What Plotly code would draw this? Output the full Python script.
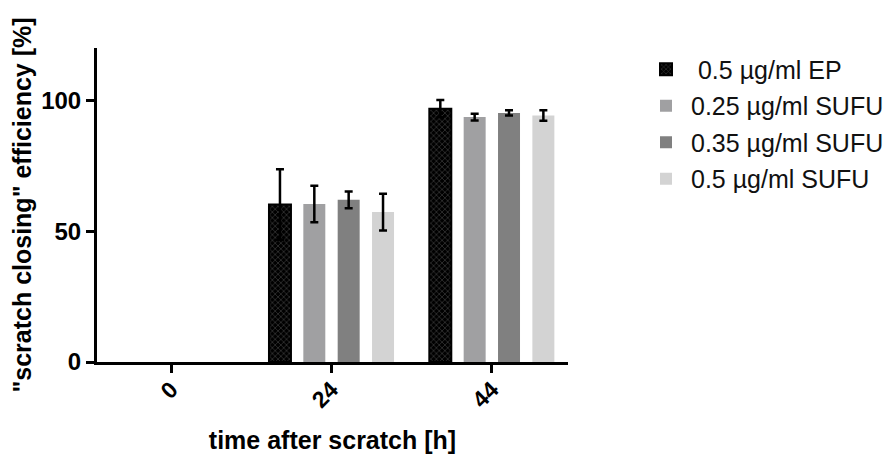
import plotly.graph_objects as go

categories = ["0", "24", "44"]
series_names = [" 0.5 µg/ml EP", "0.25 µg/ml SUFU", "0.35 µg/ml SUFU", "0.5 µg/ml SUFU"]
ep_05 = [None, 60.2, 96.8]
ep_05_err = [None, 13.5, 3.3]
sufu_025 = [None, 60.4, 93.6]
sufu_025_err = [None, 7.0, 1.3]
sufu_035 = [None, 62.0, 95.2]
sufu_035_err = [None, 3.2, 1.0]
sufu_05 = [None, 57.3, 94.2]
sufu_05_err = [None, 7.0, 2.0]
y_ticks = [0, 50, 100]

values = [ep_05, sufu_025, sufu_035, sufu_05]
errors = [ep_05_err, sufu_025_err, sufu_035_err, sufu_05_err]
colors = ["#000000", "#a0a0a2", "#808080", "#d3d3d3"]

font_family = "Liberation Sans, Arial, sans-serif"
fig = go.Figure()
for i, (name, v, e, c) in enumerate(zip(series_names, values, errors, colors)):
    marker = dict(color=c, line=dict(width=0))
    if i == 0:
        marker = dict(color="#000000",
                      line=dict(color="#000000", width=2),
                      pattern=dict(shape="x", fgcolor="#6a6a6a", bgcolor="#000000",
                                   size=4, solidity=0.35))
    fig.add_trace(go.Bar(
        x=categories, y=v, name=name, marker=marker,
        legendgroup=str(i),
        error_y=dict(type="data", array=e, visible=True, color="#000000",
                     thickness=2.5, width=4),
    ))

# page body has an 8px margin, so the figure is 8px smaller and shifted
fig.update_layout(
    width=888, height=446,
    margin=dict(l=89, r=328, t=40, b=92, autoexpand=False),
    paper_bgcolor="white", plot_bgcolor="white",
    barmode="group", bargap=0.143, bargroupgap=0.36,
    font=dict(family=font_family, color="#000000"),
    showlegend=True,
    legend=dict(x=1.155, y=1.005, xanchor="left", yanchor="top",
                font=dict(size=25, family=font_family, color="#111"),
                tracegroupgap=1, itemwidth=40),
)
fig.update_xaxes(
    type="category", range=[-0.4625, 2.475], automargin=False,
    showline=True, linecolor="#000000", linewidth=3,
    ticks="outside", ticklen=8, tickwidth=3, tickcolor="#000000",
    tickangle=-45, showgrid=False, zeroline=False, ticklabelstandoff=-6,
    tickfont=dict(size=23, family=font_family, color="#000000", weight="bold"),
    title=dict(text="<b>time after scratch [h]</b>", font=dict(size=25, family=font_family), standoff=20),
)
fig.update_yaxes(
    range=[0, 120], tickvals=y_ticks, automargin=False,
    showline=True, linecolor="#000000", linewidth=3,
    ticks="outside", ticklen=8, tickwidth=3, tickcolor="#000000",
    showgrid=False, zeroline=False,
    tickfont=dict(size=24, family=font_family, color="#000000", weight="bold"),
    title=dict(text="<b>\"scratch closing\" efficiency [%]</b>", font=dict(size=25, family=font_family), standoff=14),
)
fig.write_html("out.html")
